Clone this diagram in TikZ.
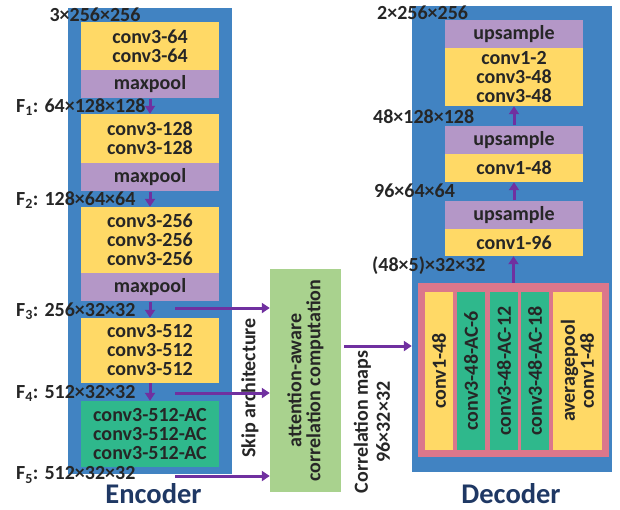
\documentclass[tikz,border=0pt]{standalone}
\usepackage{fontspec}
\setmainfont{Carlito}
\usetikzlibrary{arrows.meta,positioning,calc}

\definecolor{panelblue}{RGB}{65,131,194}
\definecolor{convyellow}{RGB}{255,217,102}
\definecolor{poolpurple}{RGB}{180,151,199}
\definecolor{acgreen}{RGB}{47,184,140}
\definecolor{asppink}{RGB}{219,119,139}
\definecolor{attgreen}{RGB}{169,210,142}
\definecolor{arrowpurple}{RGB}{112,48,160}
\definecolor{titlenavy}{RGB}{31,56,100}

\tikzset{
  layer/.style={inner sep=0pt, align=center, text=black!85, minimum width=138pt,
    font=\bfseries\fontsize{20}{19}\selectfont},
  conv/.style={layer, fill=convyellow},
  pool/.style={layer, fill=poolpurple},
  acconv/.style={layer, fill=acgreen},
  branch/.style={layer, rotate=90, minimum width=158pt, minimum height=28pt},
  dims/.style={inner sep=0pt, anchor=west, text=black!85, font=\bfseries\fontsize{20}{19}\selectfont},
  title/.style={inner sep=0pt, anchor=base, text=titlenavy, font=\bfseries\fontsize{28.5}{28.5}\selectfont},
  flow/.style={-{Triangle[length=8pt,width=10pt]}, line width=3pt, draw=arrowpurple},
}

\begin{document}
\begin{tikzpicture}[x=1pt, y=-1pt]
    \useasboundingbox (0,0) rectangle (620,509);
    % Panels
    \node[fill=panelblue, minimum width=164pt, minimum height=466pt, inner sep=0pt] (encoder) at (150,241) {};
    \node[fill=panelblue, minimum width=200pt, minimum height=466pt, inner sep=0pt] (decoder) at (512,239) {};
    \node[title] (enctitle) at (153.5,503) {Encoder};
    \node[title] (dectitle) at (511,503) {Decoder};

    % Encoder
    \node[conv, minimum height=48pt] (conv1) at (150,46) {conv3-64\\conv3-64};
    \node[pool, minimum height=28pt, below=0pt of conv1] (pool1) {maxpool};
    \node[conv, minimum height=49pt] (conv2) at (150,138.5) {conv3-128\\conv3-128};
    \node[pool, minimum height=28pt, below=0pt of conv2] (pool2) {maxpool};
    \node[conv, minimum height=66pt] (conv3) at (150,240) {conv3-256\\conv3-256\\conv3-256};
    \node[pool, minimum height=28pt, below=0pt of conv3] (pool3) {maxpool};
    \node[conv, minimum height=65pt] (conv4) at (150,350.5) {conv3-512\\conv3-512\\conv3-512};
    \node[acconv, minimum height=66pt] (conv5) at (150,434) {conv3-512-AC\\conv3-512-AC\\conv3-512-AC};

    % Encoder feature sizes
    \node[inner sep=0pt, text=black!85, font=\bfseries\fontsize{20}{19}\selectfont] (din) at (95,15) {3×256×256};
    \node[dims] (f1) at (16,107) {F\textsubscript{1}: 64×128×128};
    \node[dims] (f2) at (16,200) {F\textsubscript{2}: 128×64×64};
    \node[dims] (f3) at (16,311) {F\textsubscript{3}: 256×32×32};
    \node[dims] (f4) at (16,393) {F\textsubscript{4}: 512×32×32};
    \node[dims] (f5) at (16,475) {F\textsubscript{5}: 512×32×32};

    % Attention-aware correlation
    \node[fill=attgreen, minimum width=71pt, minimum height=223pt, inner sep=0pt] (attn) at (305.5,380.5) {};
    \node[rotate=90, align=center, inner sep=0pt, text=black!85, font=\bfseries\fontsize{20}{19}\selectfont] (attntext) at (attn) {attention-aware\\correlation computation};
    \node[rotate=90, inner sep=0pt, text=black!85, font=\bfseries\fontsize{20}{19}\selectfont] (skip) at (250,388) {Skip architecture};
    \node[rotate=90, align=center, inner sep=0pt, text=black!85, font=\bfseries\fontsize{20}{22}\selectfont] (corr) at (372,422) {Correlation maps\\96×32×32};

    % Decoder
    \node[fill=asppink, minimum width=191pt, minimum height=174pt, inner sep=0pt] (aspp) at (513.5,370) {};
    \node[branch, fill=convyellow] (b1) at (439,371) {conv1-48};
    \node[branch, fill=acgreen] (b2) at (471,371) {conv3-48-AC-6};
    \node[branch, fill=acgreen] (b3) at (504,371) {conv3-48-AC-12};
    \node[branch, fill=acgreen] (b4) at (535,371) {conv3-48-AC-18};
    \node[branch, fill=convyellow, minimum height=49pt] (b5) at (577.5,371) {averagepool\\conv1-48};

    \node[conv, minimum height=27pt] (dconv3) at (514,242.5) {conv1-96};
    \node[pool, minimum height=28pt, above=0pt of dconv3] (up3) {upsample};
    \node[conv, minimum height=28pt] (dconv2) at (514,168) {conv1-48};
    \node[pool, minimum height=28pt, above=0pt of dconv2] (up2) {upsample};
    \node[conv, minimum height=58pt] (dconv1) at (514,77) {conv1-2\\conv3-48\\conv3-48};
    \node[pool, minimum height=28pt, above=0pt of dconv1] (up1) {upsample};

    % Decoder feature sizes
    \node[dims] (dout) at (377,13) {2×256×256};
    \node[dims] (d1) at (373,117) {48×128×128};
    \node[dims] (d2) at (374,191) {96×64×64};
    \node[dims] (d3) at (372,266) {(48×5)×32×32};

    % Free start points
    \coordinate (s3) at (175,308);
    \coordinate (s4) at (175,393);
    \coordinate (s5) at (175,476);
    \coordinate (cm) at (344,346);

    % Arrows
    \draw[flow] (pool1.south) -- (conv2.north);
    \draw[flow] (pool2.south) -- (conv3.north);
    \draw[flow] (pool3.south) -- (conv4.north);
    \draw[flow] (conv4.south) -- (conv5.north);
    \draw[flow] (s3) -- (s3 -| attn.west);
    \draw[flow] (s4) -- (s4 -| attn.west);
    \draw[flow] (s5) -- (s5 -| attn.west);
    \draw[flow] (cm) -- (cm -| decoder.west);
    \draw[flow] (aspp.north) -- (aspp.north |- dconv3.south);
    \draw[flow] (up3.north) -- (dconv2.south);
    \draw[flow] (up2.north) -- (dconv1.south);
\end{tikzpicture}
\end{document}
